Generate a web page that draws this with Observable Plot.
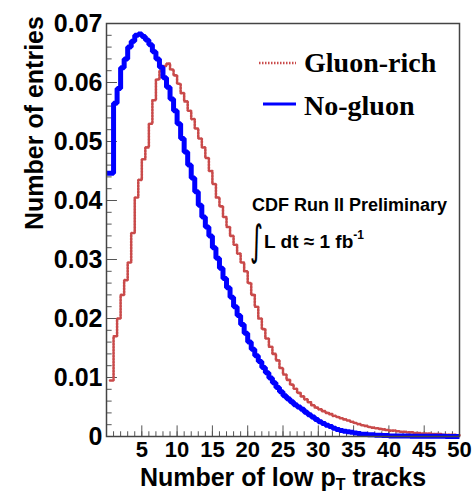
<!DOCTYPE html>
<html>
<head>
<meta charset="utf-8">
<script src="https://cdn.jsdelivr.net/npm/d3@7"></script>
<script src="https://cdn.jsdelivr.net/npm/@observablehq/plot@0.6"></script>
<style>
  html, body { margin: 0; padding: 0; background: #fff; }
  #chart { width: 475px; height: 494px; }
  #chart svg { display: block; }
</style>
</head>
<body>
<div id="chart"></div>
<script>
// Normalised distributions of the number of low-pT tracks, half-unit bins.
// No-gluon: bins start at 0.
const noGluonStart = 0;
const noGluonWidth = 0.5;
const noGluon = [
  0.0446, 0.0446, 0.0565, 0.0590, 0.0625, 0.0640, 0.0660, 0.0670, 0.0680, 0.0682,
  0.0678, 0.0672, 0.0664, 0.0652, 0.0640, 0.0626, 0.0608, 0.0592, 0.0572, 0.0552,
  0.0530, 0.0505, 0.0482, 0.0460, 0.0438, 0.0415, 0.0392, 0.0372, 0.0355, 0.0340,
  0.0320, 0.0302, 0.0285, 0.0268, 0.0252, 0.0236, 0.0220, 0.0205, 0.0190, 0.0175,
  0.0160, 0.0148, 0.0137, 0.0127, 0.0117, 0.0108, 0.0099, 0.0091, 0.0083, 0.0076,
  0.0069, 0.0064, 0.0059, 0.0054, 0.0050, 0.0046, 0.0041, 0.0037, 0.0033, 0.0029,
  0.0025, 0.0022, 0.0019, 0.0017, 0.0014, 0.0012, 0.0010, 0.0009, 0.0008, 0.0007,
  0.0006, 0.0005, 0.0004, 0.0004, 0.0003, 0.0003, 0.0002, 0.0002, 0.00015, 0.00015,
  0.0001, 0.0001, 0.0001, 0.0001, 0.00008, 0.00008, 0.00006, 0.00006, 0.00005, 0.00005,
  0.00004, 0.00004, 0.00003, 0.00003, 0.00003, 0.00003, 0.00002, 0.00002, 0.00002, 0.00002
];

// Gluon-rich: bins start at 0.5.
const gluonRichStart = 0.5;
const gluonRichWidth = 0.5;
const gluonRich = [
  0.0095, 0.0170, 0.0200, 0.0240, 0.0265, 0.0295, 0.0345, 0.0405, 0.0435,
  0.0470, 0.0490, 0.0530, 0.0570, 0.0605, 0.0620, 0.0628, 0.0632, 0.0622, 0.0612,
  0.0598, 0.0582, 0.0568, 0.0552, 0.0538, 0.0522, 0.0505, 0.0490, 0.0472, 0.0450,
  0.0428, 0.0405, 0.0390, 0.0372, 0.0355, 0.0340, 0.0325, 0.0310, 0.0295, 0.0280,
  0.0260, 0.0240, 0.0220, 0.0200, 0.0182, 0.0166, 0.0152, 0.0140, 0.0129, 0.0116,
  0.0105, 0.0096, 0.0088, 0.0081, 0.0074, 0.0068, 0.0063, 0.0058, 0.0053, 0.0049,
  0.0046, 0.0043, 0.0040, 0.0038, 0.0035, 0.0033, 0.0031, 0.0029, 0.0027, 0.0025,
  0.0023, 0.0021, 0.0019, 0.0018, 0.0016, 0.0015, 0.0014, 0.0013, 0.0012, 0.0011,
  0.0010, 0.0010, 0.0009, 0.0008, 0.0008, 0.0007, 0.0007, 0.0006, 0.0006, 0.0005,
  0.0005, 0.0005, 0.0004, 0.0004, 0.0004, 0.0003, 0.0003, 0.0003, 0.0003, 0.0002
];

const xTicks = [5, 10, 15, 20, 25, 30, 35, 40, 45, 50];
const xMinorTicks = d3.range(1, 50);
const yTicks = [0, 0.01, 0.02, 0.03, 0.04, 0.05, 0.06, 0.07];
const yMinorTicks = d3.range(1, 35).map(i => i * 0.002);
const seriesNames = ["Gluon-rich", "No-gluon"];
const seriesColors = ["#c94a4a", "#0000ff"];

// Turn bin contents into the outline of a histogram (flat top per bin).
function histogramOutline(values, start, width) {
  const pts = [];
  values.forEach((v, i) => {
    const x0 = start + i * width;
    pts.push({x: x0, y: v}, {x: x0 + width, y: v});
  });
  return pts;
}

const gluonPts = histogramOutline(gluonRich, gluonRichStart, gluonRichWidth);
const noGluonPts = histogramOutline(noGluon, noGluonStart, noGluonWidth);

const font = "'Liberation Sans', Arial, Helvetica, sans-serif";
const tickColor = "#555";
const dotted = "1.5,1.5";

const chart = Plot.plot({
  width: 475,
  height: 494,
  marginLeft: 106,
  marginRight: 16,
  marginTop: 23,
  marginBottom: 58,
  style: {fontFamily: font, background: "#fff", color: "#000"},
  x: {domain: [0, 50], label: null},
  y: {domain: [0, 0.07], label: null},
  marks: [
    // inward tick marks on the left and bottom axes
    Plot.ruleY(yMinorTicks, {x1: 0, x2: 0.8, stroke: tickColor, strokeWidth: 1}),
    Plot.ruleY(yTicks, {x1: 0, x2: 1.55, stroke: tickColor, strokeWidth: 1}),
    Plot.ruleX(xMinorTicks, {y1: 0, y2: 0.0008, stroke: tickColor, strokeWidth: 1}),
    Plot.ruleX(xTicks, {y1: 0, y2: 0.0018, stroke: tickColor, strokeWidth: 1}),
    Plot.axisY({
      ticks: yTicks, tickSize: 0, tickPadding: 4,
      tickFormat: d => d === 0 ? "0" : d.toFixed(2),
      fontSize: 25, fontWeight: "bold", label: null
    }),
    Plot.axisX({
      ticks: xTicks, tickSize: 0, tickPadding: 5,
      fontSize: 22, fontWeight: "bold", label: null
    }),
    Plot.line(gluonPts, {
      x: "x", y: "y", stroke: seriesColors[0], strokeWidth: 2.6,
      strokeDasharray: dotted, strokeLinejoin: "miter"
    }),
    Plot.line(noGluonPts, {
      x: "x", y: "y", stroke: seriesColors[1], strokeWidth: 5,
      strokeLinejoin: "miter", strokeLinecap: "butt"
    }),
    Plot.frame({stroke: "#444", strokeWidth: 1.5}),
    Plot.text(["Number of entries"], {
      frameAnchor: "left", dx: -72, rotate: -90,
      fontSize: 25, fontWeight: "bold", fill: "#000"
    })
  ]
});

document.getElementById("chart").appendChild(chart);

const svg = d3.select(chart);

// x-axis title with subscript T
const xTitle = svg.append("text")
  .attr("x", 283).attr("y", 486)
  .attr("text-anchor", "middle")
  .attr("font-family", font).attr("font-weight", "bold").attr("font-size", 25)
  .attr("fill", "#000");
xTitle.append("tspan").text("Number of low p");
xTitle.append("tspan").attr("font-size", 16).attr("dy", 4).text("T");
xTitle.append("tspan").attr("dy", -4).text(" tracks");

// legend
const legend = svg.append("g").attr("text-anchor", "start");
const legendRows = [{y: 72, lineY: 63}, {y: 115, lineY: 104}];
seriesNames.forEach((name, i) => {
  const row = legendRows[i];
  legend.append("line")
    .attr("x1", i === 0 ? 259 : 263).attr("x2", 296)
    .attr("y1", row.lineY).attr("y2", row.lineY)
    .attr("stroke", seriesColors[i])
    .attr("stroke-width", i === 0 ? 2.4 : 3)
    .attr("stroke-dasharray", i === 0 ? dotted : null);
  legend.append("text")
    .attr("x", 304).attr("y", row.y)
    .attr("font-family", "'Liberation Serif', 'Times New Roman', serif")
    .attr("font-weight", "bold").attr("font-size", 28)
    .attr("fill", "#000")
    .text(name);
});

// experiment label and luminosity
const note = svg.append("g")
  .attr("text-anchor", "start")
  .attr("font-family", font).attr("font-weight", "bold").attr("fill", "#000");
note.append("text").attr("x", 252).attr("y", 211).attr("font-size", 18)
  .text("CDF Run II Preliminary");
note.append("text")
  .attr("transform", "translate(250,255) scale(0.6,1)")
  .attr("font-size", 42)
  .attr("font-weight", "normal").attr("font-family", "'DejaVu Sans', sans-serif")
  .text("∫");
const lumi = note.append("text").attr("x", 264).attr("y", 248).attr("font-size", 19);
lumi.append("tspan").text("L dt \u2248 1 fb");
lumi.append("tspan").attr("font-size", 12).attr("dy", -9).text("-1");
</script>
</body>
</html>
